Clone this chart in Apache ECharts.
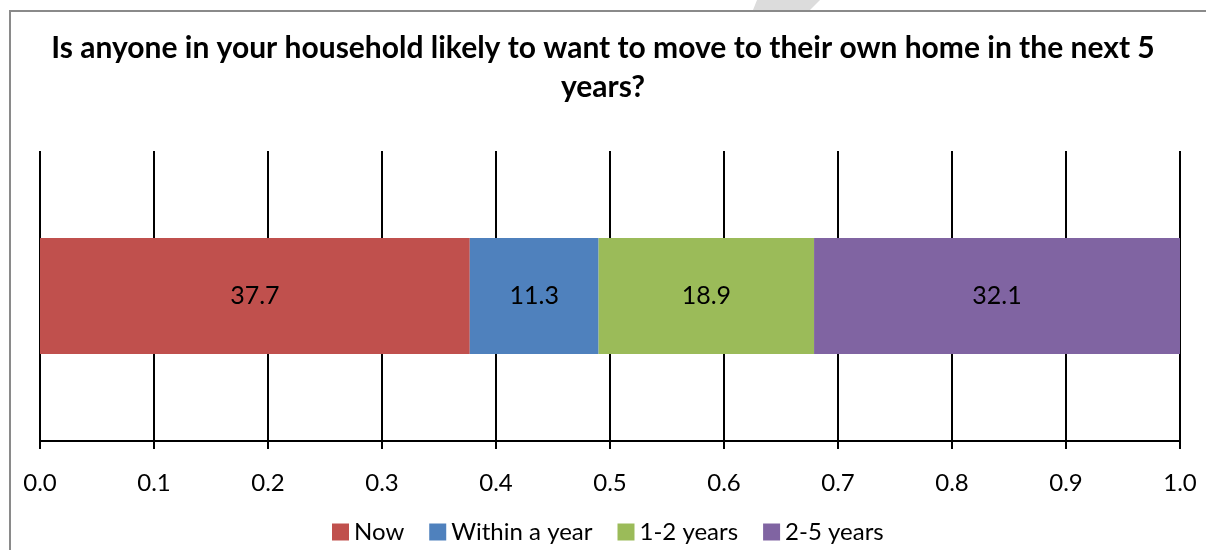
<!DOCTYPE html>
<html>
<head>
<meta charset="utf-8">
<script src="https://cdn.jsdelivr.net/npm/echarts@6/dist/echarts.min.js"></script>
<style>
  html, body { margin: 0; padding: 0; background: #fff; }
  #chart { width: 1206px; height: 550px; }
</style>
</head>
<body>
<div id="chart"></div>
<script>
// Share of households (percent) by when someone wants to move out
const seriesNames = ['Now', 'Within a year', '1-2 years', '2-5 years'];
const percents = [37.7, 11.3, 18.9, 32.1];
const colors = ['#C0504D', '#4F81BD', '#9BBB59', '#8064A2'];
const categories = [''];
const titleText = 'Is anyone in your household likely to want to move to their own home in the next 5\nyears?';

const FONT = 'Lato, "Noto Sans", sans-serif';

const chart = echarts.init(document.getElementById('chart'), null, { renderer: 'canvas' });

const series = seriesNames.map((name, i) => ({
  name: name,
  type: 'bar',
  stack: 'total',
  barWidth: 116,
  itemStyle: { color: colors[i] },
  label: {
    show: true,
    position: 'inside',
    color: '#000',
    fontFamily: FONT,
    fontSize: 25,
    formatter: () => percents[i].toFixed(1)
  },
  data: [percents[i] / 100]
}));

chart.setOption({
  animation: false,
  backgroundColor: '#fff',
  title: {
    text: titleText,
    left: 'center',
    top: 24,
    textStyle: {
      fontFamily: FONT,
      fontWeight: 'bold',
      fontSize: 30,
      lineHeight: 39,
      color: '#000'
    }
  },
  graphic: [
    {
      type: 'polygon',
      silent: true,
      z: 0,
      shape: { points: [[757, 0], [820, 0], [810, 10], [753, 10]] },
      style: { fill: '#dcdcdc' }
    },
    {
      type: 'rect',
      silent: true,
      z: 1,
      shape: { x: 10, y: 11, width: 1230, height: 600 },
      style: { fill: 'none', stroke: '#8a8a8a', lineWidth: 2 }
    }
  ],
  legend: {
    left: 327,
    top: 515,
    icon: 'rect',
    itemWidth: 17,
    itemHeight: 17,
    itemGap: 25,
    textStyle: { fontFamily: FONT, fontSize: 24, color: '#000' },
    data: seriesNames
  },
  grid: { left: 40, right: 26, top: 151, bottom: 109, containLabel: false },
  xAxis: {
    type: 'value',
    min: 0,
    max: 1,
    interval: 0.1,
    axisLine: { show: true, lineStyle: { color: '#000', width: 2 } },
    axisTick: { show: true, length: 8, lineStyle: { color: '#000', width: 2 } },
    splitLine: { show: true, lineStyle: { color: '#000', width: 2 } },
    axisLabel: {
      margin: 30,
      color: '#000',
      fontFamily: FONT,
      fontSize: 24,
      formatter: v => v.toFixed(1)
    }
  },
  yAxis: {
    type: 'category',
    data: categories,
    axisLine: { show: false },
    axisTick: { show: false },
    axisLabel: { show: false },
    splitLine: { show: false }
  },
  series: series
});
</script>
</body>
</html>
